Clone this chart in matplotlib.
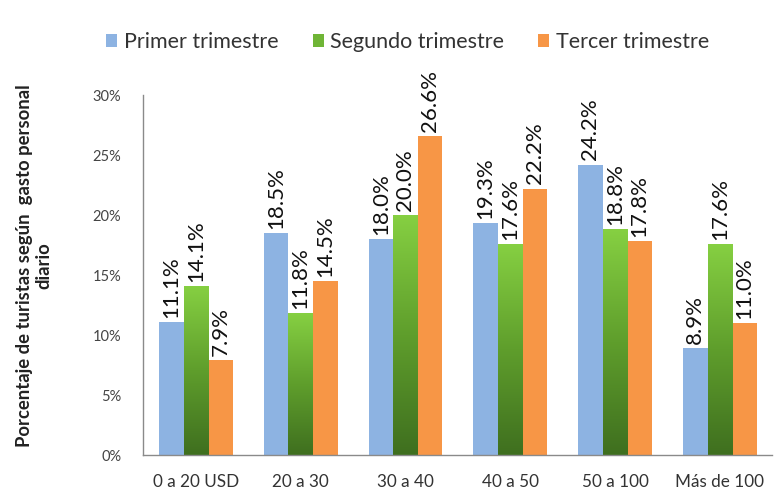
import numpy as np
import matplotlib
matplotlib.use("Agg")
import matplotlib.pyplot as plt
from matplotlib.colors import LinearSegmentedColormap

categories = ["0 a 20 USD", "20 a 30", "30 a 40", "40 a 50", "50 a 100", "Más de 100"]
primer = [11.1, 18.5, 18.0, 19.3, 24.2, 8.9]
segundo = [14.1, 11.8, 20.0, 17.6, 18.8, 17.6]
tercer = [7.9, 14.5, 26.6, 22.2, 17.8, 11.0]
series_names = ["Primer trimestre", "Segundo trimestre", "Tercer trimestre"]
yticks = [0, 5, 10, 15, 20, 25, 30]

plt.rcParams["font.family"] = ["Lato", "DejaVu Sans"]

fig = plt.figure(figsize=(7.84, 4.91), dpi=100)
ax = fig.add_axes([0.183, 0.0733, 0.802, 0.7332])

x = np.arange(len(categories))
w = 0.235
blue = "#8db3e2"
orange = "#f79646"
green_cmap = LinearSegmentedColormap.from_list("g", ["#3f6f1f", "#5f9e2c", "#86d042"])

b1 = ax.bar(x - w, primer, w, color=blue, label=series_names[0])
b2 = ax.bar(x, segundo, w, color="#6fb536", label=series_names[1])
b3 = ax.bar(x + w, tercer, w, color=orange, label=series_names[2])

# vertical gradient fill on the green bars
grad = np.linspace(0, 1, 256).reshape(-1, 1)
for rect in b2:
    x0, y0 = rect.get_x(), rect.get_y()
    im = ax.imshow(grad, cmap=green_cmap, origin="lower", aspect="auto",
                   extent=[x0, x0 + rect.get_width(), y0, y0 + rect.get_height()],
                   zorder=rect.get_zorder() + 0.1)
    im.set_clip_path(rect)

for bars, vals in ((b1, primer), (b2, segundo), (b3, tercer)):
    for rect, v in zip(bars, vals):
        ax.text(rect.get_x() + rect.get_width() / 2, v + 0.35, f"{v:.1f}%",
                rotation=90, ha="center", va="bottom", fontsize=16, color="#111111")

ax.set_xlim(-0.5, len(categories) - 0.5)
ax.set_ylim(0, 30)
ax.set_yticks(yticks)
ax.set_yticklabels([f"{t}%" for t in yticks])
ax.set_xticks(x)
ax.set_xticklabels(categories)
ax.tick_params(axis="y", length=0, labelsize=10.5, labelcolor="#444444", pad=16)
ax.tick_params(axis="x", length=0, labelsize=12.3, labelcolor="#333333", pad=14)
for s in ("top", "right"):
    ax.spines[s].set_visible(False)
for s in ("left", "bottom"):
    ax.spines[s].set_color("#8a8a8a")
    ax.spines[s].set_linewidth(1.0)

fig.text(0.0434, 0.458, "Porcentaje de turistas según  gasto personal\ndiario",
         rotation=90, ha="center", va="center", multialignment="center",
         fontsize=13.3, fontweight="bold", color="#222222")

fig.legend(handles=[b1, b2, b3], labels=series_names, loc="center",
           bbox_to_anchor=(0.52, 0.914), ncol=3, frameon=False, fontsize=15.5,
           handlelength=0.5, handleheight=0.5, handletextpad=0.3, columnspacing=1.6,
           labelcolor="#333333")

fig.savefig("out.png", dpi=100)
